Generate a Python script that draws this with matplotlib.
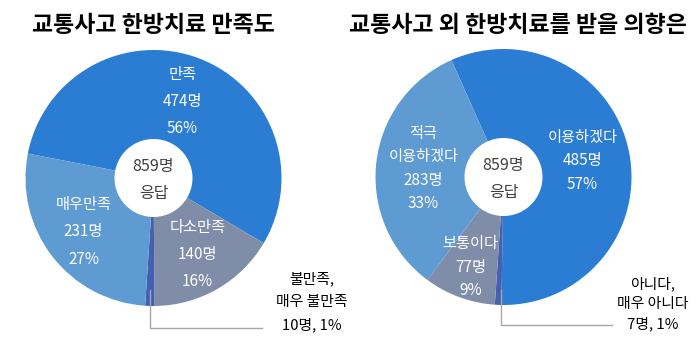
import numpy as np
import matplotlib
matplotlib.use("Agg")
import matplotlib.pyplot as plt

plt.rcParams['font.family'] = ['Noto Sans CJK KR', 'DejaVu Sans']

# 교통사고 한방치료 만족도
sat_titles = ['만족', '다소만족', '불만족,\n매우 불만족', '매우만족']
sat_counts = [474, 140, 10, 231]
sat_pcts = [56, 16, 1, 27]

# 교통사고 외 한방치료 이용 의향
use_titles = ['이용하겠다', '아니다,\n매우 아니다', '보통이다', '적극\n이용하겠다']
use_counts = [485, 7, 77, 283]
use_pcts = [57, 1, 9, 33]

total = 859

c_main = '#2B7DD4'
c_light = '#5F9BD3'
c_grey = '#7F8DA8'
c_dark = '#4560B0'

W, H = 700, 350
fig = plt.figure(figsize=(7, 3.5), dpi=100)
ax = fig.add_axes([0, 0, 1, 1])


def donut(cx, cy, counts, colors, start):
    R = 128
    wedges, _ = ax.pie(counts, colors=colors, center=(cx, H - cy), radius=R,
                       startangle=start, counterclock=False,
                       wedgeprops=dict(width=R - 39, linewidth=0))
    return wedges, R


def inner_label(w, R, frac, txt, spacing):
    th = np.deg2rad((w.theta1 + w.theta2) / 2)
    cx, cy = w.center
    x = cx + R * frac * np.cos(th)
    y = cy + R * frac * np.sin(th)
    ax.text(x, y, txt, color='white', ha='center', va='center',
            fontsize=11, linespacing=spacing)


# 왼쪽 도넛
wl, R = donut(153.5, 178, sat_counts, [c_main, c_grey, c_dark, c_light], 169)
for i, frac in [(0, 0.64), (1, 0.69), (3, 0.69)]:
    inner_label(wl[i], R, frac,
                f'{sat_titles[i]}\n{sat_counts[i]}명\n{sat_pcts[i]}%', 1.8)
ax.text(153.5, H - 180, f'{total}명\n응답', ha='center', va='center',
        fontsize=11.5, color='#404040', linespacing=1.7)
ax.plot([150, 150, 262], [H - 290, H - 328, H - 328], color='#A6A6A6', lw=1)
ax.text(312, H - 302, f'{sat_titles[2]}\n{sat_counts[2]}명, {sat_pcts[2]}%',
        ha='center', va='center', fontsize=10.7, linespacing=1.8)

# 오른쪽 도넛
wr, R = donut(503.5, 177, use_counts, [c_main, c_dark, c_grey, c_light], 114)
inner_label(wr[0], R, 0.63,
            f'{use_titles[0]}\n{use_counts[0]}명\n{use_pcts[0]}%', 1.5)
inner_label(wr[2], R, 0.75,
            f'{use_titles[2]}\n{use_counts[2]}명\n{use_pcts[2]}%', 1.5)
inner_label(wr[3], R, 0.63,
            f'{use_titles[3]}\n{use_counts[3]}명\n{use_pcts[3]}%', 1.5)
ax.text(503.5, H - 179, f'{total}명\n응답', ha='center', va='center',
        fontsize=11.5, color='#404040', linespacing=1.8)
ax.plot([501, 501, 612], [H - 290, H - 325, H - 325], color='#A6A6A6', lw=1)
ax.text(653, H - 304, f'{use_titles[1]}\n{use_counts[1]}명, {use_pcts[1]}%',
        ha='center', va='center', fontsize=10.7, linespacing=1.5)

ax.text(153, H - 25, '교통사고 한방치료 만족도', ha='center', va='center',
        fontsize=16.5, fontweight='bold')
ax.text(518, H - 25, '교통사고 외 한방치료를 받을 의향은', ha='center', va='center',
        fontsize=16.5, fontweight='bold')

ax.set_xlim(0, W)
ax.set_ylim(0, H)
ax.set_aspect('auto')
ax.axis('off')

fig.savefig('out.png', dpi=100, facecolor='white')
